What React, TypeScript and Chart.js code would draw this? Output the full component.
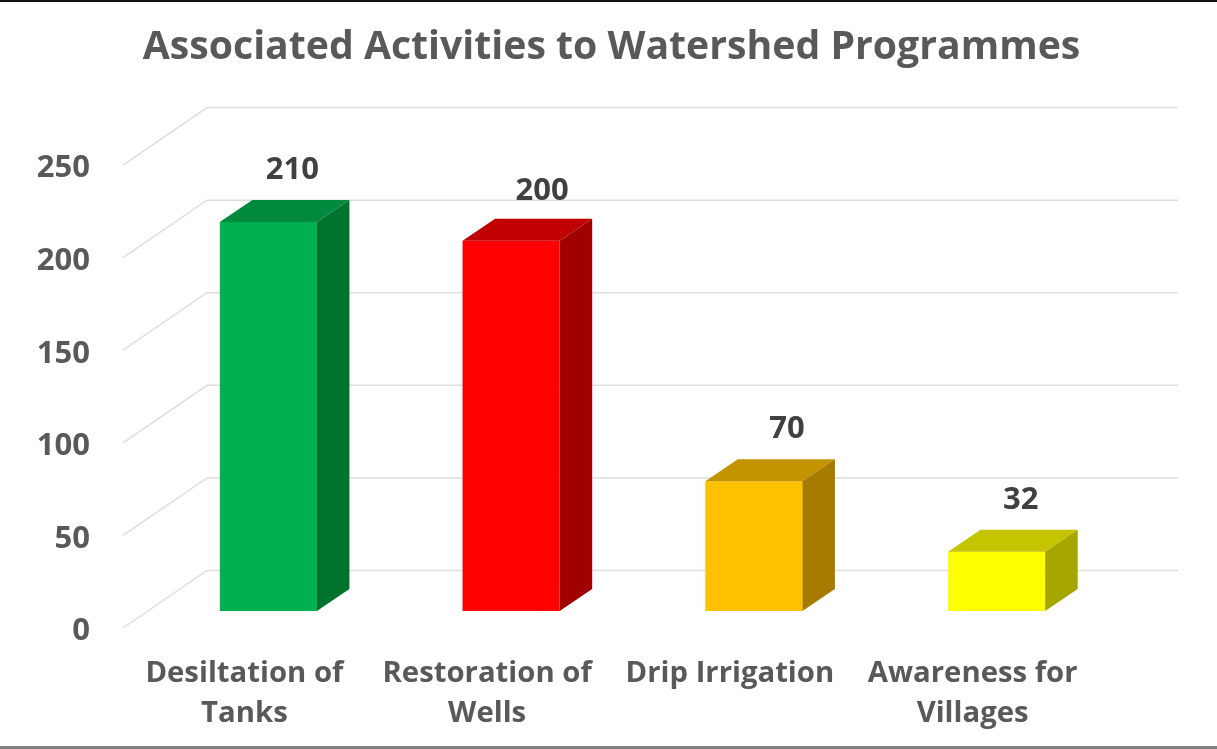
import React, { useEffect, useRef } from "react";
import { Chart, registerables } from "chart.js";

Chart.register(...registerables);

const categories = [["Desiltation of", "Tanks"], ["Restoration of", "Wells"], "Drip Irrigation", ["Awareness for", "Villages"]];
const values = [210, 200, 70, 32];
const yTicks = [0, 50, 100, 150, 200, 250];
const frontColors = ["#00B050", "#FF0000", "#FFC000", "#FFFF00"];
const sideColors = ["#00732F", "#A00000", "#A67C00", "#A6A600"];
const topColors = ["#008A3E", "#C00000", "#C49300", "#C4C400"];
const labelShift = [24, 31, 33, 24];
const labelRise = [51.5, 49.5, 52.5, 51.5];

const FONT = '"Open Sans", sans-serif';
const DX = 32.5, DY = 22;

const frame = {
  id: "frame",
  beforeDraw(chart: any) {
    const { ctx, width, height } = chart;
    ctx.save();
    ctx.fillStyle = "#111111";
    ctx.fillRect(0, 0, width, 2);
    ctx.fillStyle = "#7F7F7F";
    ctx.fillRect(0, height - 3, width, 3);
    ctx.restore();
  },
};

const wall = {
  id: "wall",
  beforeDatasetsDraw(chart: any) {
    const { ctx, chartArea, scales } = chart;
    ctx.save();
    ctx.strokeStyle = "#DEDEDE";
    ctx.lineWidth = 1.5;
    for (const v of yTicks) {
      const y = scales.y.getPixelForValue(v);
      ctx.beginPath();
      ctx.moveTo(chartArea.left - 24, y + 17);
      ctx.lineTo(chartArea.left + 60, y - 40.5);
      ctx.lineTo(chartArea.right + 60, y - 40.5);
      ctx.stroke();
    }
    ctx.restore();
  },
};

const solid = {
  id: "solid",
  afterDatasetsDraw(chart: any) {
    const { ctx } = chart;
    const bars = chart.getDatasetMeta(0).data;
    ctx.save();
    bars.forEach((b: any, i: number) => {
      const l = b.x - b.width / 2, r = b.x + b.width / 2, t = b.y, bt = b.base;
      ctx.fillStyle = topColors[i];
      ctx.beginPath();
      ctx.moveTo(l, t); ctx.lineTo(l + DX, t - DY); ctx.lineTo(r + DX, t - DY); ctx.lineTo(r, t);
      ctx.closePath(); ctx.fill();
      ctx.fillStyle = sideColors[i];
      ctx.beginPath();
      ctx.moveTo(r, t); ctx.lineTo(r + DX, t - DY); ctx.lineTo(r + DX, bt - DY); ctx.lineTo(r, bt);
      ctx.closePath(); ctx.fill();
      ctx.fillStyle = "#404040";
      ctx.font = `bold 31px ${FONT}`;
      ctx.textAlign = "center";
      ctx.textBaseline = "middle";
      ctx.fillText(String(values[i]), b.x + labelShift[i], t - labelRise[i]);
    });
    ctx.restore();
  },
};

export default function App() {
  const ref = useRef<HTMLCanvasElement>(null);
  useEffect(() => {
    document.body.style.margin = "0";
    document.body.style.background = "#fff";
    const chart = new Chart(ref.current!, {
      type: "bar",
      data: {
        labels: categories as any,
        datasets: [{ data: values, backgroundColor: frontColors, barPercentage: 0.4, categoryPercentage: 1 }],
      },
      plugins: [frame, wall, solid],
      options: {
        responsive: false,
        animation: false,
        layout: { padding: { left: 6 } },
        plugins: {
          legend: { display: false },
          tooltip: { enabled: false },
          title: {
            display: true,
            text: "Associated Activities to Watershed Programmes",
            color: "#595959",
            font: { family: FONT, size: 39.2, weight: "bold", lineHeight: 1.2 },
            padding: { top: 24, bottom: 77 },
          },
        },
        scales: {
          x: {
            grid: { display: false },
            border: { display: false },
            afterFit(s: any) { s.height = 138; },
            ticks: {
              color: "#595959",
              font: { family: FONT, size: 29.3, weight: "bold", lineHeight: 1.365 },
              maxRotation: 0,
              autoSkip: false,
              labelOffset: -24,
              padding: 35,
            },
          },
          y: {
            min: 0,
            max: 250,
            grid: { display: false, drawTicks: false },
            border: { display: false },
            afterFit(s: any) { s.width = 141; },
            ticks: {
              stepSize: 50,
              color: "#595959",
              font: { family: FONT, size: 31, weight: "bold" },
              padding: 57,
              labelOffset: 20.5,
            },
          },
          rightGap: {
            type: "linear",
            position: "right",
            grid: { display: false, drawTicks: false },
            border: { display: false },
            ticks: { display: false },
            afterFit(s: any) { s.width = 99; },
          },
        },
      },
    } as any);
    return () => chart.destroy();
  }, []);
  return <canvas ref={ref} width={1217} height={749} style={{ display: "block" }} />;
}
